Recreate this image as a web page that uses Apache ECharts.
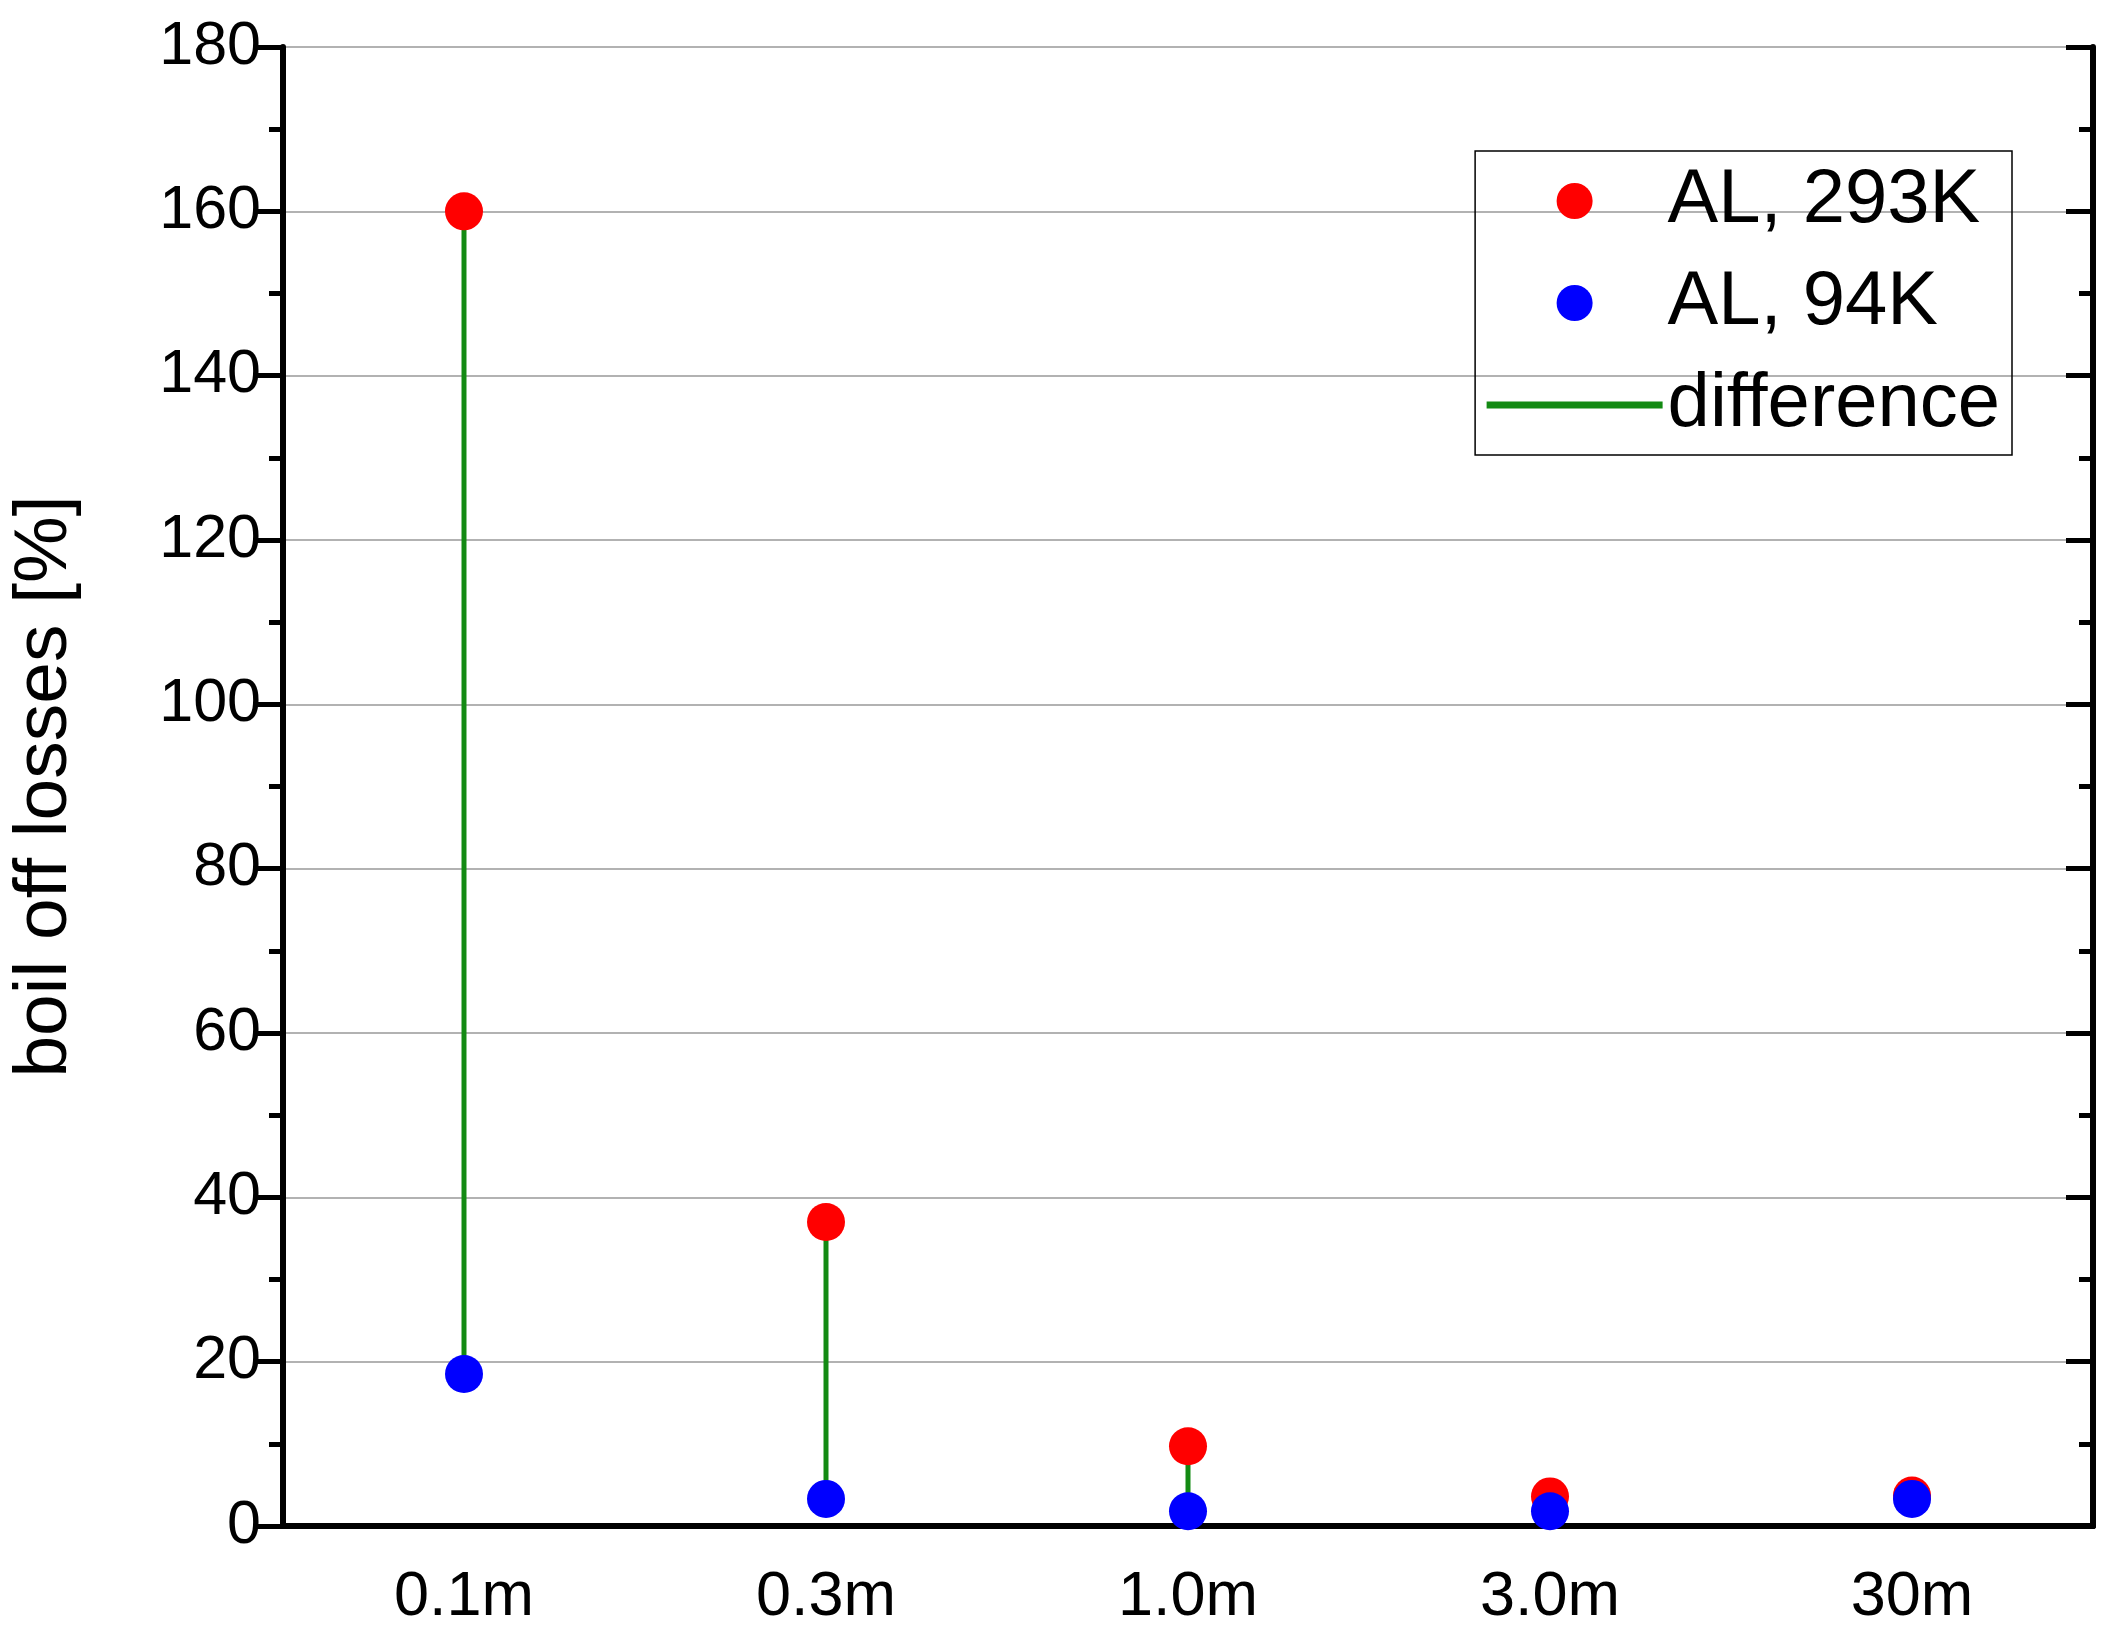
<!DOCTYPE html>
<html><head><meta charset="utf-8">
<script src="https://cdn.jsdelivr.net/npm/echarts@6/dist/echarts.min.js"></script>
<style>html,body{margin:0;padding:0;background:#fff}#c{width:2109px;height:1633px}</style>
</head><body><div id="c"></div>
<script>
var categories = ['0.1m','0.3m','1.0m','3.0m','30m'];
var al293 = [160, 37, 9.7, 3.6, 3.7];
var al94 = [18.5, 3.3, 1.8, 1.8, 3.3];
var yTicks = [0,20,40,60,80,100,120,140,160,180];

var diffData = [];
categories.forEach(function(c,i){ diffData.push([i, al293[i]]); diffData.push([i, al94[i]]); diffData.push([i, null]); });

var F = 'Liberation Sans, Arial, sans-serif';
var chart = echarts.init(document.getElementById('c'));
chart.setOption({
  animation:false,
  grid:{left:257,right:16,top:47,bottom:107,containLabel:false},
  legend:{
    right:97, top:151, orient:'vertical', itemGap:26,
    padding:[12,12,12,8],
    borderColor:'#000', borderWidth:1.5, borderRadius:0,
    itemWidth:176, itemHeight:36,
    textStyle:{fontFamily:F,fontSize:76,color:'#000'},
    data:[{name:'AL, 293K',icon:'circle'},{name:'AL, 94K',icon:'circle'},
          {name:'difference',itemStyle:{opacity:0},lineStyle:{width:7,color:'#138a13'}}]
  },
  xAxis:[{
    type:'category', data:categories, boundaryGap:true,
    axisLine:{lineStyle:{color:'#000',width:6}},
    axisTick:{alignWithLabel:true,length:18,lineStyle:{width:5,color:'#000'}},
    axisLabel:{fontFamily:F,fontSize:63,color:'#000',margin:40}
  },{
    type:'category', data:categories, position:'top', boundaryGap:true,
    axisLine:{lineStyle:{color:'#000',width:6}},
    axisTick:{alignWithLabel:true,inside:true,length:27,lineStyle:{width:5,color:'#000'}},
    axisLabel:{show:false}
  }],
  yAxis:[{
    type:'value', min:0, max:180, interval:20,
    name:'boil off losses [%]', nameLocation:'middle', nameGap:200,
    nameTextStyle:{fontFamily:F,fontSize:75,color:'#000'},
    axisLine:{show:true,lineStyle:{color:'#000',width:6}},
    axisTick:{show:true,length:27,lineStyle:{width:5,color:'#000'}},
    minorTick:{show:true,splitNumber:2,length:14,lineStyle:{width:5,color:'#000'}},
    splitLine:{show:true,lineStyle:{color:'#999',width:1.5}},
    axisLabel:{fontFamily:F,fontSize:61,color:'#000',margin:22}
  },{
    type:'value', min:0, max:180, interval:20, position:'right',
    axisLine:{show:true,lineStyle:{color:'#000',width:6}},
    axisTick:{show:true,inside:true,length:27,lineStyle:{width:5,color:'#000'}},
    minorTick:{show:true,splitNumber:2,length:14,lineStyle:{width:5,color:'#000'}},
    splitLine:{show:false}, axisLabel:{show:false}
  }],
  series:[
    {name:'difference',type:'line',data:diffData,connectNulls:false,symbol:'none',
     lineStyle:{color:'#138a13',width:5},itemStyle:{color:'#138a13'},z:1},
    {name:'AL, 293K',type:'scatter',data:al293,symbolSize:38,itemStyle:{color:'#ff0000',opacity:1},z:3},
    {name:'AL, 94K',type:'scatter',data:al94,symbolSize:38,itemStyle:{color:'#0000ff',opacity:1},z:4}
  ]
});
</script></body></html>
